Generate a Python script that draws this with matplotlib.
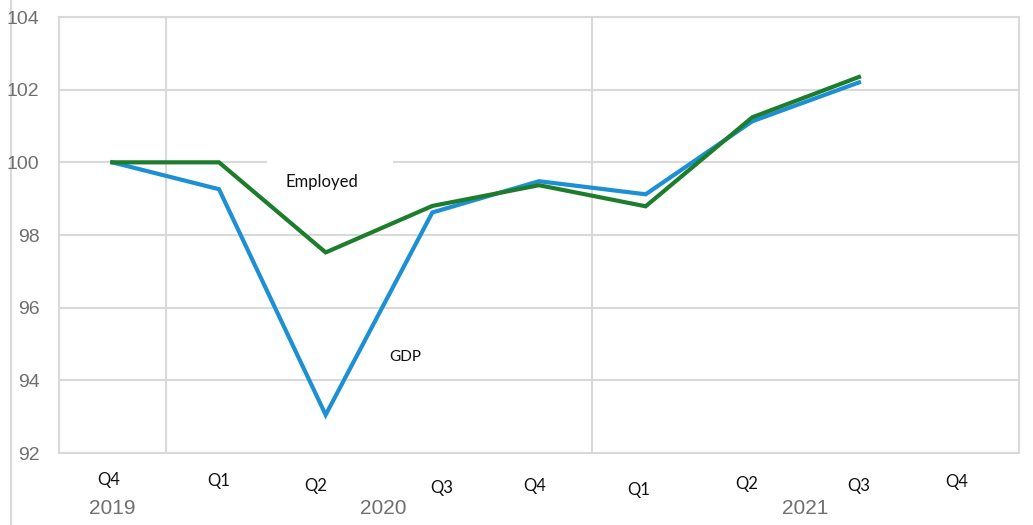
import matplotlib.pyplot as plt
import matplotlib.transforms as mtransforms
from matplotlib.lines import Line2D
from matplotlib.patches import Rectangle

# quarters Q4 2019 .. Q4 2021, index 2019Q4 = 100
quarters = ["Q4", "Q1", "Q2", "Q3", "Q4", "Q1", "Q2", "Q3", "Q4"]
years = ["2019", "2020", "2021"]
gdp = [100.0, 99.26, 93.05, 98.62, 99.48, 99.12, 101.13, 102.2]
employed = [100.0, 100.0, 97.52, 98.8, 99.37, 98.79, 101.24, 102.35]

# layout of the hand-placed category labels (figure px from the top)
q_dx = [-0.03, 0.0, -0.09, 0.09, -0.04, -0.07, -0.05, 0.0, -0.08]
q_py = [480, 481, 486, 488, 486, 490, 484, 486, 482]
year_x = [0, 2.54, 6.5]
year_py = [509, 508, 509]

W, H = 1033, 525
grid_c = "#d9d9d9"
gray_txt = "#6f6f6f"
num_font = ["Liberation Sans", "DejaVu Sans"]
lab_font = ["Lato", "DejaVu Sans"]

fig = plt.figure(figsize=(W / 100, H / 100), dpi=100)
# stray vertical rule at the far left of the image, behind everything
fig.add_artist(Line2D([10.5 / W, 10.5 / W], [0, 1], color=grid_c, lw=1.5,
                      zorder=-1))
ax = fig.add_axes([59 / W, 1 - 453 / H, (1019 - 59) / W, (453 - 17) / H])
ax.patch.set_alpha(0)

ax.plot(range(len(gdp)), gdp, color="#1c8fd5", lw=3.0, zorder=3,
        solid_joinstyle="miter")
ax.plot(range(len(employed)), employed, color="#1e7d2c", lw=3.0, zorder=4,
        solid_joinstyle="miter")

ax.set_xlim(-0.5, len(quarters) - 0.5)
ax.set_ylim(92, 104)
ax.set_yticks(range(92, 105, 2))
ax.set_xticks([])
ax.yaxis.grid(True, color=grid_c, lw=1.5, zorder=0)
ax.set_axisbelow(True)
for x in (0.5, 4.5):
    ax.axvline(x, color=grid_c, lw=1.5, zorder=0)
for s in ax.spines.values():
    s.set_color(grid_c)
    s.set_linewidth(1.5)
ax.tick_params(axis="y", length=0, pad=14, labelcolor=gray_txt)
for t in ax.get_yticklabels():
    t.set_fontfamily(num_font)
    t.set_fontsize(14)

# category labels under the axis
tr = mtransforms.blended_transform_factory(ax.transData, fig.transFigure)
for i, q in enumerate(quarters):
    ax.text(i + q_dx[i], 1 - q_py[i] / H, q, transform=tr, ha="center",
            va="center", fontsize=12, family=lab_font, color="#111111")
for x, y, py in zip(year_x, years, year_py):
    ax.text(x, 1 - py / H, y, transform=tr, ha="center", va="center",
            fontsize=15, family=num_font, color=gray_txt)

# series labels (the Employed label sits on a white patch over the gridline)
ax.add_patch(Rectangle((1.45, 99.3), 1.18, 0.9, fc="white", ec="none",
                       zorder=1))
ax.text(1.96, 99.45, "Employed", ha="center", va="center", fontsize=12,
        family=lab_font, color="#111111", zorder=2)
ax.text(2.75, 94.65, "GDP", ha="center", va="center", fontsize=11,
        family=lab_font, color="#111111", zorder=2)

fig.savefig("out.png", dpi=100)
